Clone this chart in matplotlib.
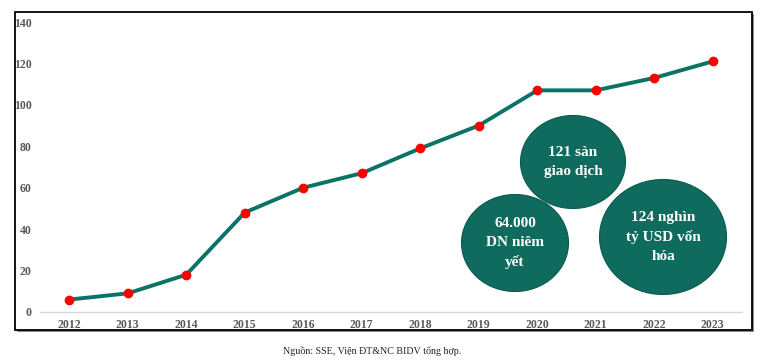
import matplotlib
matplotlib.use("Agg")
import matplotlib.pyplot as plt
from matplotlib.patches import Ellipse, Rectangle

years = ["2012", "2013", "2014", "2015", "2016", "2017",
         "2018", "2019", "2020", "2021", "2022", "2023"]
values = [6, 9, 18, 48, 60, 67, 79, 90, 107, 107, 113, 121]
yticks = [0, 20, 40, 60, 80, 100, 120, 140]

bubble_texts = ["121 sàn\ngiao dịch", "64.000\nDN niêm\nyết", "124 nghìn\ntỷ USD vốn\nhóa"]

W, H = 763, 364
teal = "#0b7366"
bubble_color = "#0e6b5e"
tick_color = "#595959"

plt.rcParams["font.family"] = ["Liberation Serif", "DejaVu Serif"]

fig = plt.figure(figsize=(W / 100, H / 100), dpi=100)

# outer frame, with a darker shadow on the bottom and right edges
fig.patches.append(Rectangle((17 / W, 1 - 332 / H), (754 - 17) / W, (332 - 14) / H,
                             transform=fig.transFigure, facecolor="#8c8c8c",
                             edgecolor="none", zorder=-2))
fig.patches.append(Rectangle((15 / W, 1 - 330 / H), (752 - 15) / W, (330 - 12) / H,
                             transform=fig.transFigure, facecolor="white",
                             edgecolor="black", linewidth=1.3, zorder=-1))

ax = fig.add_axes([40 / W, 1 - 312 / H, (742 - 40) / W, (312 - 22) / H])
ax.patch.set_visible(False)
x = list(range(len(years)))
ax.plot(x, values, color=teal, linewidth=2.8, zorder=2, clip_on=False)
ax.plot(x, values, "o", color="red", markersize=6, zorder=3, clip_on=False)

ax.set_xlim(-0.5, len(years) - 0.5)
ax.set_ylim(0, 140)
ax.set_xticks(x)
ax.set_xticklabels(years)
ax.set_yticks(yticks)
for s in ["top", "right", "left"]:
    ax.spines[s].set_visible(False)
ax.spines["bottom"].set_color("#d9d9d9")
ax.spines["bottom"].set_linewidth(1)
ax.tick_params(axis="both", length=0, labelsize=8.5, labelcolor=tick_color)
ax.tick_params(axis="y", pad=6)
ax.tick_params(axis="x", pad=5)
for lab in ax.get_xticklabels() + ax.get_yticklabels():
    lab.set_fontweight("bold")

# bubbles: centre x, centre y, width, height in pixels
bubbles = [(573, 162, 105, 93), (515, 243, 107, 97), (663, 237, 127, 115)]
for (cx, cy, bw, bh), txt in zip(bubbles, bubble_texts):
    fig.patches.append(Ellipse((cx / W, 1 - cy / H), bw / W, bh / H,
                               transform=fig.transFigure, facecolor=bubble_color,
                               edgecolor="#0a5a4f", linewidth=0.8, zorder=5))
    fig.text(cx / W, 1 - cy / H, txt, ha="center", va="center", color="white",
             fontsize=11, fontweight="bold", linespacing=1.55, zorder=6)

fig.text(283 / W, 1 - 351 / H, "Nguồn: SSE, Viện ĐT&NC BIDV tổng hợp.",
         fontsize=7.2, ha="left", va="center", color="#222222")

fig.savefig("out.png", dpi=100)
